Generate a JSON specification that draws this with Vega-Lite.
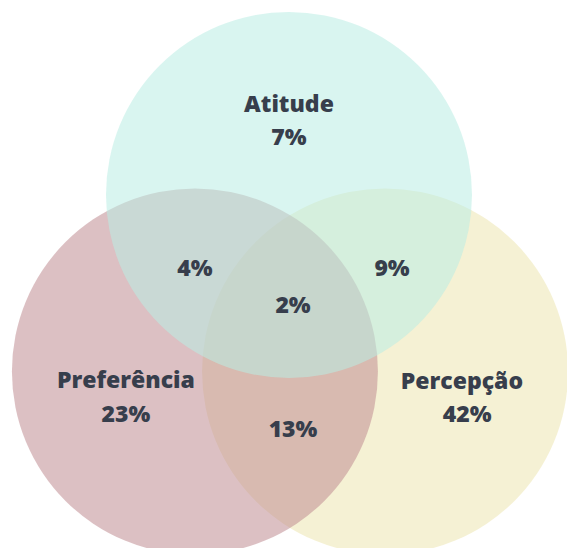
{
  "$schema": "https://vega.github.io/schema/vega-lite/v6.json",
  "width": 567,
  "height": 548,
  "autosize": {"type": "none"},
  "padding": 0,
  "background": "white",
  "config": {"view": {"stroke": null}},
  "datasets": {
    "circles": [
      {"set": "Percepção", "cx": 0.525, "cy": 0.0},
      {"set": "Preferência", "cx": -0.514, "cy": 0.0},
      {"set": "Atitude", "cx": 0.0, "cy": 0.965}
    ],
    "labels": [
      {"label": "Atitude", "lx": 0.0, "ly": 1.418},
      {"label": "7%", "lx": 0.0, "ly": 1.238},
      {"label": "4%", "lx": -0.514, "ly": 0.522},
      {"label": "9%", "lx": 0.563, "ly": 0.522},
      {"label": "2%", "lx": 0.022, "ly": 0.32},
      {"label": "13%", "lx": 0.022, "ly": -0.358},
      {"label": "Preferência", "lx": -0.891, "ly": -0.09},
      {"label": "23%", "lx": -0.891, "ly": -0.276},
      {"label": "Percepção", "lx": 0.945, "ly": -0.093},
      {"label": "42%", "lx": 0.973, "ly": -0.276}
    ]
  },
  "layer": [
    {
      "data": {"name": "circles"},
      "mark": {"type": "point", "shape": "circle", "filled": true, "opacity": 0.55, "size": 133956, "strokeWidth": 0},
      "encoding": {
        "x": {"field": "cx", "type": "quantitative", "scale": {"domain": [-1.579, 1.519], "nice": false, "zero": false}, "axis": null},
        "y": {"field": "cy", "type": "quantitative", "scale": {"domain": [-0.9645, 2.03], "nice": false, "zero": false}, "axis": null},
        "color": {"field": "set", "type": "nominal", "scale": {"domain": ["Atitude", "Preferência", "Percepção"], "range": ["#baede4", "#bf8c92", "#ede6b1"]}, "legend": null}
      }
    },
    {
      "data": {"name": "labels"},
      "mark": {"type": "text", "font": "Open Sans", "fontWeight": 800, "fontSize": 23, "color": "#373e4c", "align": "center", "baseline": "alphabetic"},
      "encoding": {
        "x": {"field": "lx", "type": "quantitative", "scale": {"domain": [-1.579, 1.519], "nice": false, "zero": false}, "axis": null},
        "y": {"field": "ly", "type": "quantitative", "scale": {"domain": [-0.9645, 2.03], "nice": false, "zero": false}, "axis": null},
        "text": {"field": "label", "type": "nominal"}
      }
    }
  ]
}
